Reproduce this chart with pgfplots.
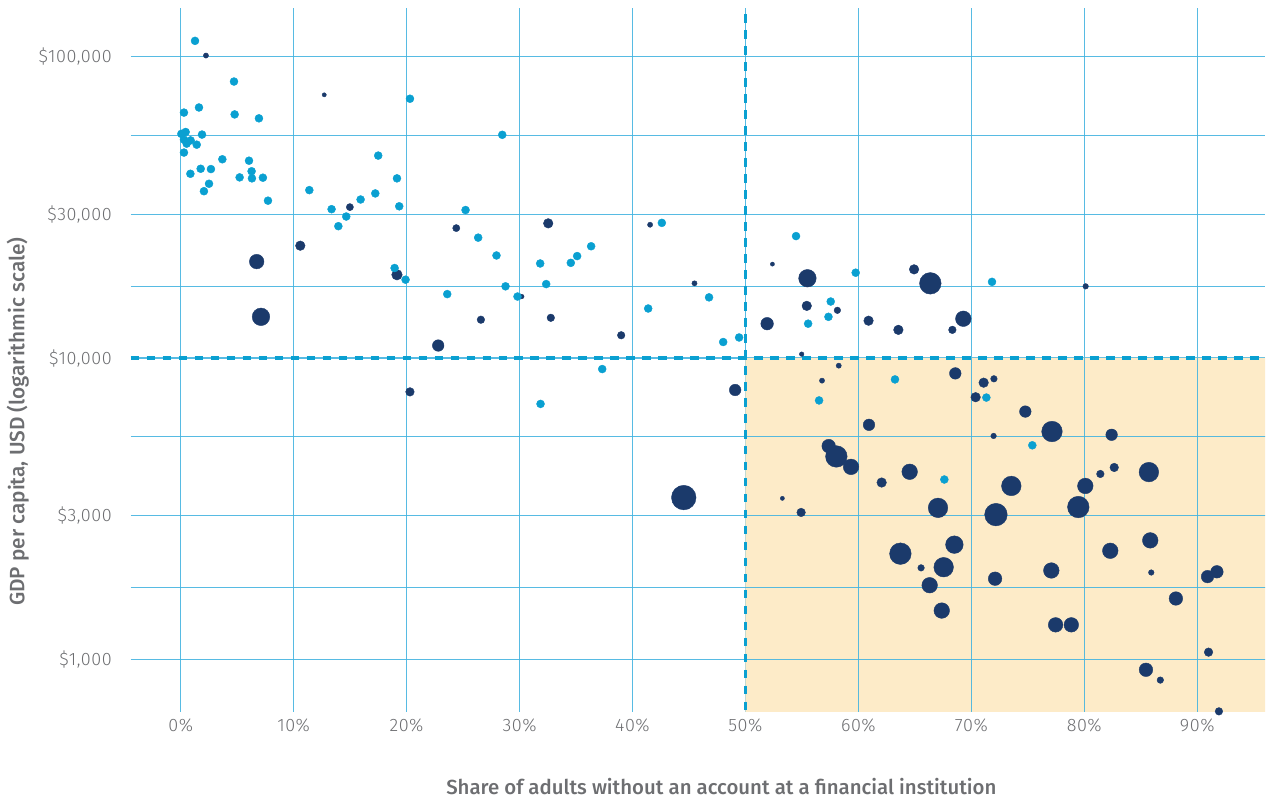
\documentclass[border=0pt]{standalone}
\usepackage{fontspec}
\setmainfont{Fira Sans}
\newfontfamily\lightfont{Fira Sans Light}[LetterSpace=3]
\newfontfamily\medfont{Fira Sans Medium}
\usepackage{pgfplots}
\usepackage{pgfplotstable}
\pgfplotsset{compat=1.18}
\definecolor{navy}{HTML}{1B3A6B}
\definecolor{lblue}{HTML}{0AA0D1}
\definecolor{gridc}{HTML}{45B4E0}
\definecolor{cream}{HTML}{FDEBC8}
\definecolor{tgray}{HTML}{6D6E71}

\pgfplotstableread{
x y r
2.24 101000 2.8
12.71 74800 2.3
14.98 31700 3.8
24.4 27000 3.8
32.54 28000 5
10.59 23600 5
19.15 18900 5.5
30.2 16000 2.5
41.56 27700 2.8
45.49 17700 2.8
39.0 11900 4
52.39 20500 2.3
55.49 18400 9
55.43 14900 5
58.14 14400 3.5
51.92 13000 6.5
60.9 13300 5
64.93 19700 5
66.37 17700 11
63.54 12400 5
68.32 12400 4
69.29 13500 8
54.98 10300 2.5
58.26 9430 2.8
56.78 8410 2.8
68.58 8890 6
71.09 8280 5
72.0 8530 3.5
70.38 7410 5
74.78 6640 6
60.94 6000 6
80.12 17300 3
77.14 5700 10.5
82.42 5560 6
49.09 7830 6
71.97 5510 3
57.37 5100 7
58.05 4710 11
59.35 4350 8
62.06 3860 5
64.54 4190 8
53.27 3420 2.3
54.93 3070 4.5
67.05 3180 10
72.18 3020 11.5
81.42 4120 4
82.65 4330 4.5
85.72 4180 10
73.54 3760 10
80.09 3760 8
79.47 3200 11
85.84 2480 8
82.3 2290 8
77.08 1970 8
85.93 1940 3
90.91 1880 6.5
91.74 1950 6.5
72.1 1850 7
63.72 2240 11
68.5 2400 9
65.55 2010 3.5
67.55 2020 10
66.31 1760 8
67.38 1450 8
88.11 1590 7
77.46 1300 7.5
78.85 1300 7.5
91.0 1055 4.5
85.46 922 7
86.73 852 3.5
91.92 671 4
6.73 20900 7.5
7.11 13700 9
22.8 11000 6
20.3 7720 4.5
26.58 13400 4
32.77 13600 4
44.54 3440 12.5
}\darkdata

\pgfplotstableread{
x y
0.06 55500
0.44 56300
0.29 53100
0.88 52800
0.53 51500
1.42 51100
1.89 55200
0.29 48100
1.27 113000
4.72 82800
1.62 67900
0.29 65300
4.78 64400
6.93 62500
3.69 45700
6.05 45200
1.77 42500
2.68 42400
6.28 41700
5.22 39800
6.31 39500
7.28 39700
0.86 40900
2.51 37900
2.06 35800
7.73 33300
20.3 72600
28.47 55100
17.49 47000
19.15 39500
11.39 36100
17.23 35200
15.93 33600
13.36 31200
19.35 31900
14.66 29500
13.96 27400
25.22 31000
26.34 25100
27.96 21900
31.83 20600
34.54 20700
35.1 21800
18.94 19900
19.91 18200
28.76 17300
32.36 17600
23.6 16300
29.82 16000
42.6 28100
36.34 23500
46.78 15900
41.39 14600
48.03 11300
49.44 11700
54.48 25400
59.76 19200
57.55 15400
57.35 13700
55.55 13000
71.83 17900
63.24 8490
71.33 7390
56.52 7230
67.61 3950
75.4 5130
37.32 9190
31.86 7040
}\lightdata

\begin{document}
\begin{tikzpicture}
\begin{axis}[
  at={(0,0)}, anchor=south west, scale only axis,
  width=567.5pt, height=352pt,
  xmin=-4.42, xmax=96,
  ymode=log, ymin=670, ymax=145300,
  axis line style={draw=none},
  major tick length=0pt, minor tick length=0pt,
  xtick={0,10,20,30,40,50,60,70,80,90},
  xticklabels={0\%,10\%,20\%,30\%,40\%,50\%,60\%,70\%,80\%,90\%},
  ytick={1000,3000,10000,30000,100000},
  yticklabels={\$1{,}000,\$3{,}000,\$10{,}000,\$30{,}000,\$100{,}000},
  minor ytick={1732,5477,17321,54772},
  xmajorgrids, ymajorgrids, yminorgrids,
  major grid style={draw=gridc, line width=0.55pt, opacity=0.9},
  minor grid style={draw=gridc, line width=0.55pt, opacity=0.9},
  ticklabel style={font=\lightfont\fontsize{9}{11}\selectfont, text=tgray},
  yticklabel style={anchor=east, xshift=-6pt},
  xticklabel style={anchor=north, yshift=0pt},
  xlabel={Share of adults without an account at a financial institution},
  ylabel={GDP per capita, USD (logarithmic scale)},
  xlabel style={at={(axis description cs:0.5207,-0.1065)}, anchor=center,
    font=\medfont\fontsize{10.2}{12}\selectfont, text=tgray},
  ylabel style={at={(axis description cs:-0.0996,0.412)}, anchor=center,
    font=\medfont\fontsize{10.4}{12}\selectfont, text=tgray},
  clip=true,
]
\addplot[fill=cream, draw=none]
  coordinates {(50,600) (120,600) (120,10000) (50,10000) (50,600)};
\addplot[gridc, line width=0.55pt, opacity=0.9] coordinates {(60,600) (60,10000)};
\addplot[gridc, line width=0.55pt, opacity=0.9] coordinates {(70,600) (70,10000)};
\addplot[gridc, line width=0.55pt, opacity=0.9] coordinates {(80,600) (80,10000)};
\addplot[gridc, line width=0.55pt, opacity=0.9] coordinates {(90,600) (90,10000)};
\addplot[gridc, line width=0.55pt, opacity=0.9] coordinates {(50,1000) (120,1000)};
\addplot[gridc, line width=0.55pt, opacity=0.9] coordinates {(50,1732) (120,1732)};
\addplot[gridc, line width=0.55pt, opacity=0.9] coordinates {(50,3000) (120,3000)};
\addplot[gridc, line width=0.55pt, opacity=0.9] coordinates {(50,5477) (120,5477)};
\addplot[lblue, line width=1.6pt, dash pattern=on 4.3pt off 3.7pt]
  coordinates {(50,200000) (50,600)};
\addplot[lblue, line width=1.6pt, dash pattern=on 4.3pt off 3.7pt]
  coordinates {(-4.42,10000) (96,10000)};
\addplot[scatter, only marks, mark=*, navy,
  point meta={\thisrow{r}},
  visualization depends on={\thisrow{r} \as \rad},
  scatter/use mapped color={draw=navy, fill=navy},
  scatter/@pre marker code/.append style={/tikz/mark size=0.5*\rad-0.1},
  mark options={line width=0.2pt}]
  table[x=x,y=y]{\darkdata};
\addplot[only marks, mark=*, lblue, mark size=2.0pt,
  mark options={line width=0.2pt}]
  table[x=x,y=y]{\lightdata};
\end{axis}
\path (-65pt,-44.5pt) rectangle (570pt,356pt);
\end{tikzpicture}
\end{document}
